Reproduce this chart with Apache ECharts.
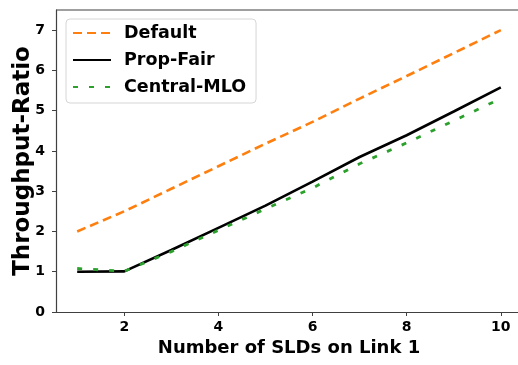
<!DOCTYPE html>
<html>
<head>
<meta charset="utf-8">
<script src="https://cdn.jsdelivr.net/npm/echarts@6/dist/echarts.min.js"></script>
<style>html,body{margin:0;padding:0;background:#fff;overflow:hidden;width:518px;height:365px}#c{width:540px;height:365px}</style>
</head>
<body>
<div id="c"></div>
<script>
const nSLDs = [1, 2, 3, 4, 5, 6, 7, 8, 9, 10];
const defaultVals = [2.0, 2.5, 3.06, 3.62, 4.18, 4.72, 5.3, 5.86, 6.43, 7.0];
const propFairVals = [1.0, 1.01, 1.54, 2.09, 2.64, 3.24, 3.85, 4.39, 4.98, 5.58];
const centralMloVals = [1.08, 1.01, 1.5, 2.03, 2.56, 3.08, 3.68, 4.2, 4.75, 5.3];
const xTicks = [2, 4, 6, 8, 10];
const yTicks = [0, 1, 2, 3, 4, 5, 6, 7];

const FONT = 'DejaVu Sans';
const AX = '#404040';
const X_MIN = 0.55, X_MAX = 10.45, Y_MIN = 0, Y_MAX = 7.5;
const pairs = v => nSLDs.map((x, i) => [x, v[i]]);
const chart = echarts.init(document.getElementById('c'), null, {renderer: 'canvas'});
chart.setOption({
  animation: false,
  backgroundColor: '#fff',
  grid: {left: 56, top: 10, right: 18, bottom: 53, show: false, containLabel: false, outerBoundsMode: 'none'},
  legend: {
    orient: 'vertical', left: 66, top: 19,
    padding: [5, 10, 7, 6],
    itemWidth: 38, itemHeight: 18, itemGap: 9,
    borderColor: '#d6d6d6', borderWidth: 1, borderRadius: 4, backgroundColor: 'rgba(255,255,255,0.85)',
    itemStyle: {opacity: 0},
    textStyle: {fontFamily: FONT, fontWeight: 'bold', fontSize: 17.5, color: '#000', lineHeight: 18, padding: [0,0,0,8]},
    data: ['Default', 'Prop-Fair', 'Central-MLO']
  },
  xAxis: {
    type: 'value', min: X_MIN, max: X_MAX,
    name: 'Number of SLDs on Link 1', nameLocation: 'middle', nameGap: 27,
    nameTextStyle: {fontFamily: FONT, fontWeight: 'bold', fontSize: 18, color: '#000'},
    axisLine: {show: true, onZero: false, lineStyle: {color: AX, width: 1.2}},
    axisTick: {show: true, length: 4, inside: false, customValues: xTicks, lineStyle: {color: AX}},
    axisLabel: {customValues: xTicks, fontFamily: FONT, fontWeight: 'bold', fontSize: 14, color: '#000', margin: 8},
    splitLine: {show: false}
  },
  yAxis: {
    type: 'value', min: Y_MIN, max: Y_MAX,
    name: 'Throughput-Ratio', nameLocation: 'middle', nameGap: 21, nameMoveOverlap: false,
    nameTextStyle: {fontFamily: FONT, fontWeight: 'bold', fontSize: 23, color: '#000'},
    axisLine: {show: true, onZero: false, lineStyle: {color: AX, width: 1.2}},
    axisTick: {show: true, length: 4, customValues: yTicks, lineStyle: {color: AX}},
    axisLabel: {customValues: yTicks, fontFamily: FONT, fontWeight: 'bold', fontSize: 14, color: '#000', margin: 11},
    splitLine: {show: false}
  },
  series: [
    {name: 'Default', type: 'line', data: pairs(defaultVals), symbol: 'none', z: 2,
     lineStyle: {color: '#ff7f0e', width: 2.6, type: [9, 5]}, itemStyle: {color: '#ff7f0e'}},
    {name: 'Prop-Fair', type: 'line', data: pairs(propFairVals), symbol: 'none', z: 3,
     lineStyle: {color: '#000', width: 2.6, type: 'solid'}, itemStyle: {color: '#000'}},
    {name: 'Central-MLO', type: 'line', data: pairs(centralMloVals), symbol: 'none', z: 4,
     lineStyle: {color: '#2ca02c', width: 2.8, type: [5, 11]}, itemStyle: {color: '#2ca02c'}}
  ]
});
// top spine, positioned through the axis scale
const pL = chart.convertToPixel({gridIndex: 0}, [X_MIN, Y_MAX]);
const pR = chart.convertToPixel({gridIndex: 0}, [X_MAX, Y_MAX]);
chart.setOption({graphic: [{type: 'line', shape: {x1: pL[0], y1: pL[1], x2: pR[0], y2: pR[1]}, style: {stroke: AX, lineWidth: 1.2}, z: 10}]});
</script>
</body>
</html>
